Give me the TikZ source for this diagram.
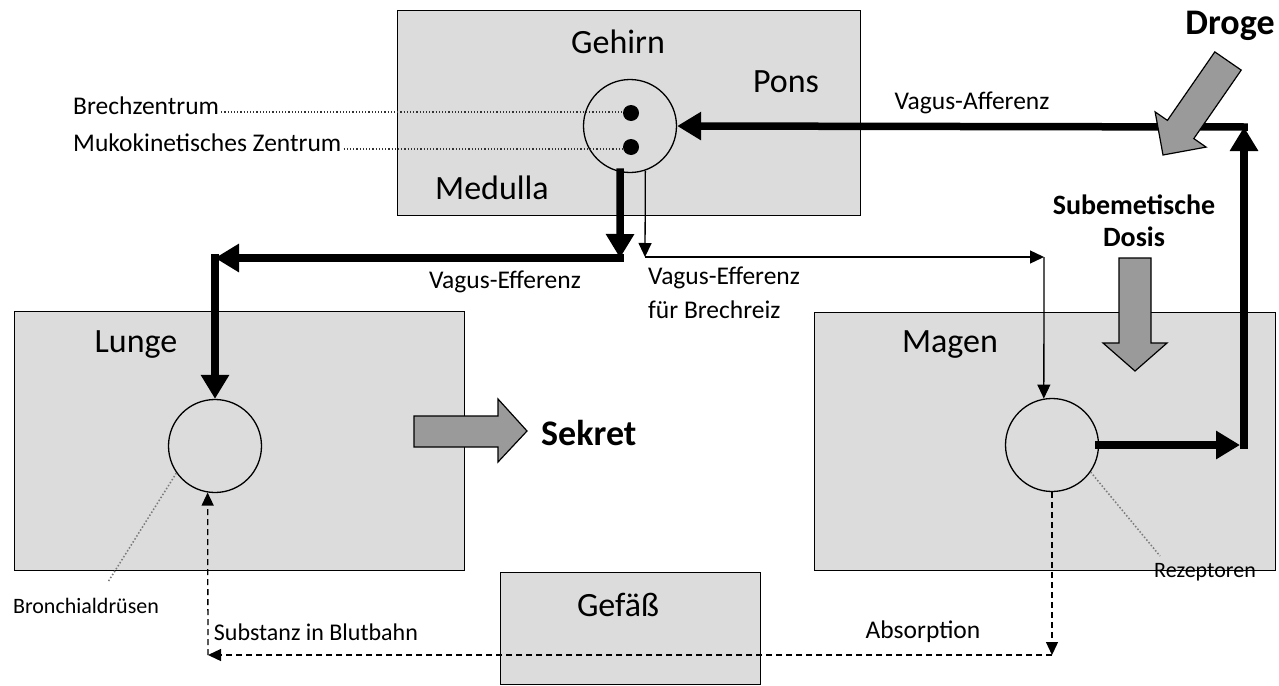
\documentclass[tikz,border=0pt]{standalone}
\usepackage{fontspec}
\setmainfont{Carlito}
\usetikzlibrary{arrows.meta,calc}
\definecolor{boxgray}{HTML}{DCDCDC}
\definecolor{arrowgray}{HTML}{9A9A9A}
\definecolor{dotgray}{HTML}{7A7A7A}
\begin{document}
\begin{tikzpicture}[x=1pt,y=-1pt,
  box/.style={draw=black,line width=1.4pt,fill=boxgray,inner sep=0pt,anchor=north west},
  organ/.style={circle,draw=black,line width=1.3pt,minimum size=93pt,inner sep=0pt},
  centre/.style={circle,fill=black,minimum size=16pt,inner sep=0pt},
  big/.style={font=\fontsize{34}{38}\selectfont,inner sep=0pt},
  lbl/.style={font=\fontsize{25.5}{28}\selectfont,inner sep=0pt},
  plbl/.style={font=\fontsize{22}{26}\selectfont,inner sep=0pt},
  boldlbl/.style={font=\bfseries\fontsize{36}{40}\selectfont,inner sep=0pt},
  smallbold/.style={font=\bfseries\fontsize{28}{31}\selectfont,inner sep=0pt},
  thickarrow/.style={line width=7.5pt,line cap=rect,-{Triangle[length=24pt,width=27pt]}},
  thinarrow/.style={line width=1.3pt,-{Triangle[length=14pt,width=13pt]}},
  dasharrow/.style={line width=1.3pt,dash pattern=on 6pt off 4pt,-{Triangle[length=13pt,width=12pt]}},
  pointer/.style={line width=1.5pt,draw=dotgray,dash pattern=on 1.5pt off 2pt},
  leader/.style={line width=1.5pt,draw=black!80,dash pattern=on 1.2pt off 2pt},
  grayarrow/.style={fill=arrowgray,draw=black,line width=1.2pt,line join=miter}
]
\useasboundingbox (0,0) rectangle (1279,685);

% boxes
\node[box,minimum width=463pt,minimum height=205pt] (gehirn) at (397,10) {};
\node[box,minimum width=450pt,minimum height=259pt] (lunge) at (14,311) {};
\node[box,minimum width=461pt,minimum height=258pt] (magen) at (814,312) {};
\node[box,minimum width=260pt,minimum height=112pt] (gefaess) at (500,572) {};

% box titles
\node[big] (tGehirn) at (618,42) {Gehirn};
\node[big] (tPons) at (786,82) {Pons};
\node[big] (tMedulla) at (492,188) {Medulla};
\node[big] (tLunge) at (136,345) {Lunge};
\node[big] (tMagen) at (950,345) {Magen};
\node[big] (tGefaess) at (618,605) {Gefäß};

% circles
\node[organ] (gc) at (630,126) {};
\node[organ] (lc) at (215,446) {};
\node[organ] (mc) at (1052,445) {};
\node[centre] (d1) at (631,113) {};
\node[centre] (d2) at (631,147) {};

% centre labels
\node[lbl,anchor=base west] (brech) at (73,114) {Brechzentrum};
\node[lbl,anchor=base west] (muko) at (73,151) {Mukokinetisches Zentrum};
\draw[leader] ($(brech.base east)+(2,-2)$) -- (d1.west |- 0,112);
\draw[leader] ($(muko.base east)+(2,-2)$) -- (d2.west |- 0,149);

% junction coordinates
\coordinate (cTR) at (1244,127);
\coordinate (cMR) at (1244,445);
\coordinate (jM) at (620,258);
\coordinate (cTL) at (215,258);
\coordinate (jT) at (645,257);
\coordinate (tM) at (1044,257);
\coordinate (dBR) at (1052,655);
\coordinate (dBL) at (208,655);

% thick afferent path
\draw[thickarrow] (mc.east) -- ($(cMR)+(-4,0)$);
\draw[thickarrow] (cMR) -- (cTR);
\draw[thickarrow] (cTR) -- (gc.east);

% thick efferent path
\draw[thickarrow] (gc.-102) -- (jM);
\draw[thickarrow] (jM) -- (cTL);
\draw[thickarrow] (cTL) -- (lc.north);

% thin efferent path
\draw[thinarrow] (gc.-71) -- (jT);
\draw[thinarrow] (jT) -- (tM);
\draw[thinarrow] (tM) -- (mc.100);

% dashed blood path
\draw[dasharrow] (mc.south) -- (dBR);
\draw[dasharrow] (dBR) -- (dBL);
\draw[dasharrow] (dBL) -- (lc.-99);

% pointers
\node[plbl] (bron) at (86,606) {Bronchialdrüsen};
\node[plbl] (rez) at (1205,572) {Rezeptoren};
\draw[pointer] (lc.215) -- (108,582);
\draw[pointer] (mc.-35) -- (1160,556);

% labels
\node[lbl] (vaff) at (972,103) {Vagus-Afferenz};
\node[lbl] (veff) at (505,282) {Vagus-Efferenz};
\node[lbl,anchor=west] (veff2) at (648,278) {Vagus-Efferenz};
\node[lbl,anchor=west] (veff3) at (648,310) {für Brechreiz};
\node[lbl] (abs) at (923,632) {Absorption};
\node[lbl,font=\fontsize{24}{28}\selectfont] (subst) at (316,632) {Substanz in Blutbahn};

% gray arrows
\draw[grayarrow] (1241.2,70.1) -- (1214.8,51.9) -- (1167.4,120.4) -- (1155.1,111.9) -- (1163,155) -- (1206.1,147.1) -- (1193.8,138.6) -- cycle;
\draw[grayarrow] (1119,258) -- (1151,258) -- (1151,343) -- (1167,343) -- (1135,371) -- (1103,343) -- (1119,343) -- cycle;
\draw[grayarrow] (414,416) -- (498,416) -- (498,399) -- (527,431) -- (498,462) -- (498,447) -- (414,447) -- cycle;

\node[boldlbl] (droge) at (1230,26) {Droge};
\node[boldlbl,anchor=west] (sekret) at (541,433) {Sekret};
\node[smallbold] (sub1) at (1134,205) {Subemetische};
\node[smallbold] (sub2) at (1134,237) {Dosis};
\end{tikzpicture}
\end{document}
